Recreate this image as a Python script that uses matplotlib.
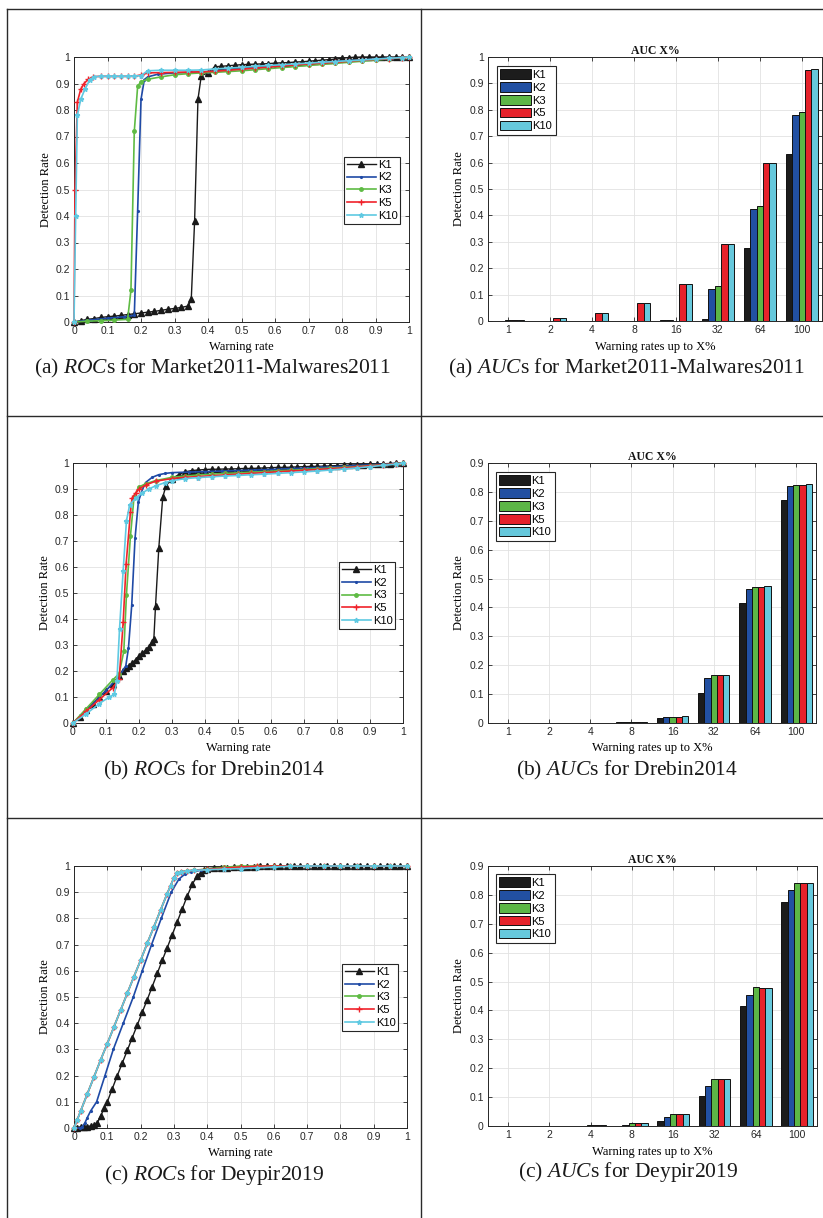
import matplotlib
matplotlib.use('Agg')
import matplotlib.pyplot as plt
from matplotlib.lines import Line2D
import numpy as np

plt.rcParams['font.family'] = ['Liberation Sans', 'DejaVu Sans']
plt.rcParams['mathtext.fontset'] = 'custom'
plt.rcParams['mathtext.rm'] = 'Liberation Serif'
plt.rcParams['mathtext.it'] = 'Liberation Serif:italic'

# ---------------- DATA ----------------
series_names = ['K1', 'K2', 'K3', 'K5', 'K10']

# (a) Market2011-Malwares2011 ROC
roc_a_k1_x = [0, 0.02, 0.04, 0.06, 0.08, 0.10, 0.12, 0.14, 0.16, 0.18, 0.20, 0.22, 0.24, 0.26, 0.28, 0.30, 0.32, 0.34,
              0.35, 0.36, 0.37, 0.38,
              0.40, 0.42, 0.44, 0.46, 0.48, 0.50, 0.52, 0.54, 0.56, 0.58, 0.60, 0.62, 0.64, 0.66, 0.68, 0.70, 0.72,
              0.74, 0.76, 0.78, 0.80, 0.82, 0.84, 0.86, 0.88, 0.90, 0.92, 0.94, 0.96, 0.98, 1.00]
roc_a_k1_y = [0, 0.005, 0.01, 0.013, 0.017, 0.02, 0.022, 0.025, 0.028, 0.031, 0.034, 0.037, 0.04, 0.044, 0.048, 0.051, 0.055, 0.06,
              0.085, 0.38, 0.84, 0.93,
              0.94, 0.963, 0.965, 0.967, 0.969, 0.971, 0.972, 0.973, 0.974, 0.975, 0.977, 0.978, 0.979, 0.981, 0.982, 0.984, 0.986,
              0.988, 0.99, 0.992, 0.995, 0.998, 0.999, 1.0, 1.0, 1.0, 1.0, 1.0, 1.0, 1.0, 1.0]
roc_a_k2_x = [0, 0.05, 0.10, 0.15, 0.18, 0.19, 0.20, 0.21, 0.22, 0.25, 0.30, 0.35, 0.40, 0.45, 0.50, 0.55, 0.60, 0.65,
              0.70, 0.75, 0.80, 0.85, 0.90, 0.95, 1.00]
roc_a_k2_y = [0, 0.008, 0.014, 0.02, 0.025, 0.42, 0.84, 0.915, 0.925, 0.935, 0.94, 0.942, 0.945, 0.95, 0.955, 0.96, 0.965, 0.97,
              0.975, 0.98, 0.985, 0.988, 0.992, 0.996, 1.0]
roc_a_k3_x = [0, 0.04, 0.08, 0.12, 0.16, 0.17, 0.18, 0.19, 0.20, 0.22, 0.26, 0.30, 0.34, 0.38, 0.42, 0.46, 0.50, 0.54,
              0.58, 0.62, 0.66, 0.70, 0.74, 0.78, 0.82, 0.86, 0.90, 0.94, 0.98, 1.00]
roc_a_k3_y = [0, 0.003, 0.005, 0.007, 0.01, 0.12, 0.72, 0.89, 0.907, 0.916, 0.925, 0.933, 0.937, 0.94, 0.942, 0.945, 0.948, 0.952,
              0.956, 0.96, 0.964, 0.968, 0.972, 0.976, 0.98, 0.984, 0.988, 0.993, 0.998, 1.0]
roc_a_k5_x = [0, 0.003, 0.01, 0.02, 0.03, 0.043, 0.058, 0.08, 0.10, 0.12, 0.14, 0.16, 0.18, 0.20, 0.22, 0.26, 0.30, 0.34,
              0.38, 0.42, 0.46, 0.50, 0.54, 0.58, 0.62, 0.66, 0.70, 0.74, 0.78, 0.82, 0.86, 0.90, 0.94, 0.98, 1.00]
roc_a_k5_y = [0, 0.5, 0.83, 0.878, 0.9, 0.916, 0.926, 0.927, 0.927, 0.927, 0.927, 0.927, 0.928, 0.932, 0.94, 0.941, 0.942, 0.943,
              0.944, 0.946, 0.95, 0.954, 0.958, 0.962, 0.966, 0.97, 0.974, 0.977, 0.98, 0.984, 0.988, 0.991, 0.994, 0.998, 1.0]
roc_a_k10_x = [0, 0.005, 0.01, 0.02, 0.033, 0.048, 0.06, 0.08, 0.10, 0.12, 0.14, 0.16, 0.18, 0.20, 0.22, 0.26, 0.30, 0.34,
               0.38, 0.42, 0.46, 0.50, 0.54, 0.58, 0.62, 0.66, 0.70, 0.74, 0.78, 0.82, 0.86, 0.90, 0.94, 0.98, 1.00]
roc_a_k10_y = [0, 0.4, 0.78, 0.84, 0.88, 0.915, 0.926, 0.927, 0.927, 0.927, 0.927, 0.927, 0.928, 0.93, 0.948, 0.95, 0.95, 0.95,
               0.951, 0.955, 0.958, 0.961, 0.965, 0.968, 0.971, 0.974, 0.977, 0.98, 0.983, 0.986, 0.989, 0.992, 0.995, 0.998, 1.0]

# (b) Drebin2014 ROC
roc_b_k1_x = [0, 0.02, 0.04, 0.06, 0.08, 0.10, 0.12, 0.14,
              0.15, 0.16, 0.17, 0.18, 0.19, 0.20, 0.21, 0.22, 0.23, 0.24,
              0.245, 0.25, 0.26, 0.272, 0.282,
              0.30, 0.32, 0.34, 0.36, 0.38, 0.40, 0.42, 0.44, 0.46, 0.48, 0.50, 0.52, 0.54, 0.56, 0.58, 0.60, 0.62,
              0.64, 0.66, 0.68, 0.70, 0.72, 0.74, 0.76, 0.78, 0.80, 0.82, 0.84, 0.86, 0.88, 0.90, 0.92, 0.94, 0.96, 0.98, 1.00]
roc_b_k1_y = [0, 0.025, 0.05, 0.075, 0.1, 0.125, 0.15, 0.18,
              0.2, 0.21, 0.22, 0.232, 0.244, 0.256, 0.268, 0.28, 0.293, 0.31,
              0.323, 0.449, 0.673, 0.869, 0.913,
              0.94, 0.955, 0.966, 0.971, 0.973, 0.975, 0.976, 0.976, 0.977, 0.977, 0.978, 0.979, 0.979, 0.98, 0.981, 0.982, 0.983,
              0.983, 0.984, 0.985, 0.986, 0.987, 0.987, 0.988, 0.989, 0.99, 0.991, 0.992, 0.993, 0.994, 0.995, 0.996, 0.997, 0.998, 0.999, 1.0]
roc_b_k2_x = [0, 0.05, 0.10, 0.14, 0.16, 0.168, 0.178, 0.188, 0.198, 0.208, 0.22, 0.24, 0.26, 0.28, 0.30, 0.35, 0.40, 0.45,
              0.50, 0.55, 0.60, 0.65, 0.70, 0.75, 0.80, 0.85, 0.90, 0.95, 1.00]
roc_b_k2_y = [0, 0.06, 0.125, 0.18, 0.22, 0.287, 0.454, 0.71, 0.85, 0.89, 0.925, 0.945, 0.955, 0.96, 0.963, 0.965, 0.967, 0.969,
              0.971, 0.973, 0.975, 0.978, 0.98, 0.983, 0.986, 0.99, 0.993, 0.996, 1.0]
roc_b_k3_x = [0, 0.04, 0.08, 0.12, 0.14, 0.154, 0.162, 0.174, 0.185, 0.20, 0.22, 0.25, 0.30, 0.34, 0.38, 0.42, 0.46, 0.50,
              0.54, 0.58, 0.62, 0.66, 0.70, 0.74, 0.78, 0.82, 0.86, 0.90, 0.94, 0.98, 1.00]
roc_b_k3_y = [0, 0.055, 0.11, 0.165, 0.19, 0.276, 0.494, 0.718, 0.87, 0.908, 0.92, 0.932, 0.945, 0.95, 0.954, 0.957, 0.96, 0.962,
              0.965, 0.967, 0.97, 0.972, 0.975, 0.978, 0.98, 0.983, 0.986, 0.99, 0.993, 0.997, 1.0]
roc_b_k5_x = [0, 0.04, 0.08, 0.12, 0.14, 0.152, 0.161, 0.174, 0.179, 0.19, 0.20, 0.22, 0.25, 0.30, 0.34, 0.38, 0.42, 0.46,
              0.50, 0.54, 0.58, 0.62, 0.66, 0.70, 0.74, 0.78, 0.82, 0.86, 0.90, 0.94, 0.98, 1.00]
roc_b_k5_y = [0, 0.045, 0.09, 0.135, 0.17, 0.387, 0.612, 0.81, 0.865, 0.885, 0.9, 0.915, 0.93, 0.94, 0.945, 0.948, 0.951, 0.954,
              0.957, 0.96, 0.963, 0.966, 0.969, 0.972, 0.975, 0.978, 0.981, 0.985, 0.989, 0.993, 0.997, 1.0]
roc_b_k10_x = [0, 0.04, 0.08, 0.11, 0.125, 0.133, 0.141, 0.152, 0.162, 0.172, 0.19, 0.21, 0.23, 0.25, 0.28, 0.30, 0.34, 0.38,
               0.42, 0.46, 0.50, 0.54, 0.58, 0.62, 0.66, 0.70, 0.74, 0.78, 0.82, 0.86, 0.90, 0.94, 0.98, 1.00]
roc_b_k10_y = [0, 0.035, 0.075, 0.1, 0.11, 0.16, 0.362, 0.586, 0.778, 0.84, 0.865, 0.885, 0.9, 0.912, 0.925, 0.932, 0.94, 0.944,
               0.947, 0.95, 0.952, 0.955, 0.957, 0.96, 0.963, 0.966, 0.969, 0.973, 0.977, 0.981, 0.986, 0.991, 0.996, 1.0]

# (c) Deypir2019 ROC
roc_c_k1_x = [0, 0.01, 0.02, 0.03, 0.04, 0.05, 0.06, 0.07, 0.08, 0.09, 0.10,
              0.115, 0.13, 0.145, 0.16, 0.175, 0.19, 0.205, 0.22, 0.235, 0.25, 0.265, 0.28, 0.295, 0.31, 0.325, 0.34, 0.355, 0.37,
              0.38, 0.39,
              0.40, 0.42, 0.44, 0.46, 0.48, 0.50, 0.52, 0.54, 0.56, 0.58, 0.60, 0.62, 0.64, 0.66, 0.68, 0.70, 0.72, 0.74,
              0.76, 0.78, 0.80, 0.82, 0.84, 0.86, 0.88, 0.90, 0.92, 0.94, 0.96, 0.98, 1.00]
roc_c_k1_y = [0, 0.0, 0.005, 0.005, 0.005, 0.008, 0.01, 0.02, 0.045, 0.075, 0.1,
              0.15, 0.2, 0.248, 0.296, 0.345, 0.393, 0.442, 0.49, 0.54, 0.59, 0.64, 0.688, 0.738, 0.787, 0.836, 0.885, 0.93, 0.962,
              0.975, 0.985,
              0.99, 0.992, 0.993, 0.994, 0.995, 0.996, 0.997, 0.998, 0.999, 1.0, 1.0, 1.0, 1.0, 1.0, 1.0, 1.0, 1.0, 1.0,
              1.0, 1.0, 1.0, 1.0, 1.0, 1.0, 1.0, 1.0, 1.0, 1.0, 1.0, 1.0, 1.0]
roc_c_k2_x = [0, 0.018, 0.025, 0.033, 0.04, 0.05, 0.068, 0.093, 0.118, 0.148, 0.178, 0.205, 0.233, 0.262, 0.292, 0.315,
              0.334, 0.35, 0.38, 0.40, 0.45, 0.50, 0.55, 0.60, 0.70, 0.80, 0.90, 1.00]
roc_c_k2_y = [0, 0, 0.005, 0.02, 0.04, 0.065, 0.1, 0.2, 0.3, 0.4, 0.5, 0.6, 0.7, 0.8, 0.9, 0.95,
              0.97, 0.978, 0.983, 0.986, 0.99, 0.994, 0.997, 1.0, 1.0, 1.0, 1.0, 1.0]
roc_c_fast_x = [0, 0.01, 0.02, 0.04, 0.06, 0.08, 0.10, 0.12, 0.14, 0.16, 0.18, 0.20, 0.22, 0.24, 0.26, 0.28, 0.29, 0.30,
                0.31, 0.32, 0.34, 0.36, 0.40, 0.45, 0.50, 0.55, 0.60, 0.65, 0.70, 0.75, 0.80, 0.85, 0.90, 0.95, 1.00]
roc_c_k3_y = [0, 0.032, 0.065, 0.13, 0.195, 0.26, 0.322, 0.386, 0.45, 0.514, 0.578, 0.64, 0.705, 0.768, 0.832, 0.895, 0.925, 0.955,
              0.972, 0.978, 0.981, 0.984, 0.988, 0.995, 1.0, 1.0, 1.0, 1.0, 1.0, 1.0, 1.0, 1.0, 1.0, 1.0, 1.0]
roc_c_k5_y = [0, 0.032, 0.065, 0.13, 0.195, 0.26, 0.322, 0.386, 0.45, 0.514, 0.578, 0.64, 0.705, 0.768, 0.832, 0.895, 0.925, 0.955,
              0.972, 0.978, 0.981, 0.984, 0.987, 0.992, 0.996, 0.999, 1.0, 1.0, 1.0, 1.0, 1.0, 1.0, 1.0, 1.0, 1.0]
roc_c_k10_y = [0, 0.032, 0.065, 0.13, 0.195, 0.26, 0.322, 0.386, 0.45, 0.514, 0.578, 0.64, 0.705, 0.768, 0.832, 0.895, 0.925, 0.955,
               0.972, 0.978, 0.981, 0.983, 0.986, 0.988, 0.99, 0.993, 0.996, 0.999, 1.0, 1.0, 1.0, 1.0, 1.0, 1.0, 1.0]

# AUC X% bars
auc_groups = ['1', '2', '4', '8', '16', '32', '64', '100']
auc_a_k1 = [0.0, 0.0, 0.0, 0.0, 0.002, 0.008, 0.277, 0.633]
auc_a_k2 = [0.0, 0.0, 0.0, 0.0, 0.002, 0.12, 0.425, 0.78]
auc_a_k3 = [0.003, 0.0, 0.0, 0.0, 0.0, 0.133, 0.436, 0.79]
auc_a_k5 = [0.003, 0.011, 0.029, 0.067, 0.14, 0.291, 0.598, 0.952]
auc_a_k10 = [0.003, 0.011, 0.029, 0.067, 0.14, 0.291, 0.599, 0.954]

auc_b_k1 = [0.0, 0.0005, 0.001, 0.004, 0.018, 0.104, 0.415, 0.771]
auc_b_k2 = [0.0, 0.0005, 0.001, 0.004, 0.021, 0.155, 0.465, 0.820]
auc_b_k3 = [0.0, 0.0005, 0.001, 0.004, 0.021, 0.165, 0.471, 0.824]
auc_b_k5 = [0.0, 0.0005, 0.001, 0.003, 0.020, 0.165, 0.471, 0.824]
auc_b_k10 = [0.0, 0.0005, 0.001, 0.003, 0.025, 0.167, 0.473, 0.826]

auc_c_k1 = [0.0, 0.0, 0.001, 0.001, 0.016, 0.103, 0.416, 0.776]
auc_c_k2 = [0.0, 0.001, 0.001, 0.004, 0.030, 0.137, 0.455, 0.816]
auc_c_k3 = [0.0, 0.001, 0.002, 0.011, 0.042, 0.164, 0.481, 0.842]
auc_c_k5 = [0.0, 0.001, 0.002, 0.011, 0.042, 0.164, 0.479, 0.840]
auc_c_k10 = [0.0, 0.001, 0.002, 0.011, 0.042, 0.164, 0.479, 0.840]

captions = [r'(a) $\mathit{ROC}$s for Market2011-Malwares2011',
            r'(a) $\mathit{AUC}$s for Market2011-Malwares2011',
            r'(b) $\mathit{ROC}$s for Drebin2014',
            r'(b) $\mathit{AUC}$s for Drebin2014',
            r'(c) $\mathit{ROC}$s for Deypir2019',
            r'(c) $\mathit{AUC}$s for Deypir2019']

# ---------------- STYLE ----------------
W, H = 823, 1218
fig = plt.figure(figsize=(W / 100, H / 100), dpi=100)
fig.patch.set_facecolor('white')

SERIF = 'Liberation Serif'
DARK = '#262626'
roc_colors = ['#1a1a1a', '#1f4aa6', '#5fbb44', '#f0232b', '#5fc9e2']
roc_markers = ['^', '.', 'o', '+', '*']
roc_msize = [4.5, 2.5, 2.5, 4.0, 3.5]
bar_colors = ['#1c1c1c', '#2250a2', '#5cb646', '#e6222b', '#66c8dc']


def px_axes(l, t, r, b):
    return fig.add_axes([l / W, 1 - b / H, (r - l) / W, (b - t) / H])


def hline(y, x0=7, x1=823):
    fig.add_artist(Line2D([x0 / W, x1 / W], [1 - y / H, 1 - y / H], color='#2a2a2a', lw=1.0))


def vline(x, y0=9, y1=1218):
    fig.add_artist(Line2D([x / W, x / W], [1 - y0 / H, 1 - y1 / H], color='#2a2a2a', lw=1.0))


def base_style(ax):
    ax.grid(True, color='#e2e2e2', lw=0.6)
    ax.set_axisbelow(True)
    ax.tick_params(direction='in', top=True, right=True, length=3, width=0.6,
                   labelsize=7.5, pad=3, colors=DARK)
    for s in ax.spines.values():
        s.set_color(DARK)
        s.set_linewidth(0.7)


def roc_panel(box, xs, ys, leg_anchor, lab_x, lab_y):
    ax = px_axes(*box)
    for i, name in enumerate(series_names):
        ax.plot(xs[i], ys[i], color=roc_colors[i], marker=roc_markers[i], ms=roc_msize[i],
                lw=1.2 if i else 1.0, label=name, clip_on=False, zorder=3 + i)
    ax.set_xlim(0, 1)
    ax.set_ylim(0, 1)
    ticks = [i / 10 for i in range(11)]
    labs = ['0'] + ['%.1f' % t for t in ticks[1:-1]] + ['1']
    ax.set_xticks(ticks)
    ax.set_xticklabels(labs)
    ax.set_yticks(ticks)
    ax.set_yticklabels(labs)
    base_style(ax)
    ax.set_xlabel('Warning rate', family=SERIF, fontsize=9, va='center')
    ax.set_ylabel('Detection Rate', family=SERIF, fontsize=9, va='center')
    ax.xaxis.set_label_coords(0.5, lab_y)
    ax.yaxis.set_label_coords(lab_x, 0.5)
    leg = ax.legend(loc='upper left', bbox_to_anchor=leg_anchor, borderaxespad=0, fontsize=8,
                    handlelength=2.6, handletextpad=0.2, labelspacing=0.25, borderpad=0.25,
                    numpoints=1, fancybox=False, framealpha=1, edgecolor=DARK)
    leg.get_frame().set_linewidth(0.8)
    return ax


def auc_panel(box, vals, ymax, leg_anchor, lab_x, lab_y):
    ax = px_axes(*box)
    pos = np.arange(1, len(auc_groups) + 1)
    bw = 0.152
    for i, name in enumerate(series_names):
        ax.bar(pos + (i - 2) * bw, vals[i], width=bw, color=bar_colors[i], edgecolor='#111111',
               linewidth=0.7, label=name, zorder=3)
    ax.set_xlim(0.52, 8.48)
    ax.set_ylim(0, ymax)
    ax.set_xticks(pos)
    ax.set_xticklabels(auc_groups)
    yt = [i / 10 for i in range(int(round(ymax * 10)) + 1)]
    ax.set_yticks(yt)
    ax.set_yticklabels(['0'] + ['%.1f' % t for t in yt[1:-1]] + (['1'] if ymax == 1 else ['%.1f' % yt[-1]]))
    base_style(ax)
    ax.set_title('AUC X%', family=SERIF, fontsize=8.5, fontweight='bold', pad=2.5, color='#111111')
    ax.set_xlabel('Warning rates up to X%', family=SERIF, fontsize=9, va='center')
    ax.set_ylabel('Detection Rate', family=SERIF, fontsize=9, va='center')
    ax.xaxis.set_label_coords(0.5, lab_y)
    ax.yaxis.set_label_coords(lab_x, 0.5)
    leg = ax.legend(loc='upper left', bbox_to_anchor=leg_anchor, borderaxespad=0, fontsize=8,
                    handlelength=2.8, handleheight=0.95, handletextpad=0.1, labelspacing=0.2,
                    borderpad=0.3, fancybox=False, framealpha=1, edgecolor=DARK)
    leg.get_frame().set_linewidth(0.8)
    return ax


# table borders
hline(9)
hline(416)
hline(818)
vline(7)
vline(421)

roc_panel((74, 57, 409, 322),
          [roc_a_k1_x, roc_a_k2_x, roc_a_k3_x, roc_a_k5_x, roc_a_k10_x],
          [roc_a_k1_y, roc_a_k2_y, roc_a_k3_y, roc_a_k5_y, roc_a_k10_y],
          (0.806, 0.623), -0.084, -0.094)
auc_panel((488, 57, 822, 321), [auc_a_k1, auc_a_k2, auc_a_k3, auc_a_k5, auc_a_k10], 1.0,
          (0.027, 0.966), -0.087, -0.098)
roc_panel((73, 463, 403, 723),
          [roc_b_k1_x, roc_b_k2_x, roc_b_k3_x, roc_b_k5_x, roc_b_k10_x],
          [roc_b_k1_y, roc_b_k2_y, roc_b_k3_y, roc_b_k5_y, roc_b_k10_y],
          (0.806, 0.619), -0.085, -0.096)
auc_panel((488, 463, 816, 723), [auc_b_k1, auc_b_k2, auc_b_k3, auc_b_k5, auc_b_k10], 0.9,
          (0.024, 0.965), -0.088, -0.096)
roc_panel((74, 866, 407, 1128),
          [roc_c_k1_x, roc_c_k2_x, roc_c_fast_x, roc_c_fast_x, roc_c_fast_x],
          [roc_c_k1_y, roc_c_k2_y, roc_c_k3_y, roc_c_k5_y, roc_c_k10_y],
          (0.805, 0.626), -0.087, -0.095)
auc_panel((488, 866, 817, 1126), [auc_c_k1, auc_c_k2, auc_c_k3, auc_c_k5, auc_c_k10], 0.9,
          (0.024, 0.969), -0.088, -0.1)

cap_pos = [(213, 368), (627, 368), (214, 770), (627, 770), (214, 1175), (628, 1172)]
for (cx, cy), txt in zip(cap_pos, captions):
    fig.text(cx / W, 1 - cy / H, txt, ha='center', va='center', fontsize=15.5, family=SERIF, color='#1a1a1a')

fig.savefig('out.png', dpi=100, facecolor='white')
